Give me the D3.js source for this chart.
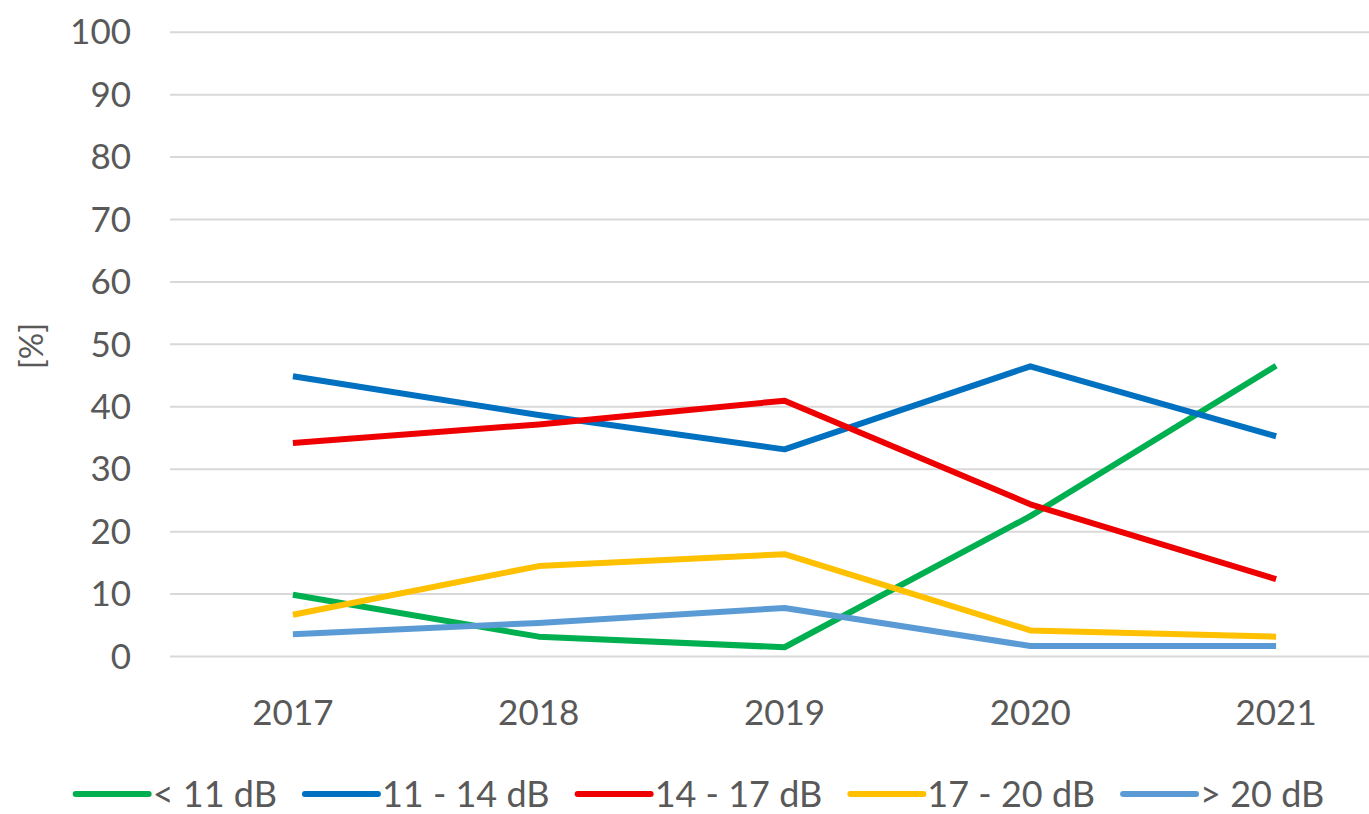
<!DOCTYPE html>
<html>
<head>
<meta charset="utf-8">
<script src="https://cdn.jsdelivr.net/npm/d3@7"></script>
<style>
  html, body { margin: 0; padding: 0; background: #fff; }
  svg { display: block; }
  text { font-family: Lato, "Open Sans", "Liberation Sans", sans-serif; fill: #595959; }
</style>
</head>
<body>
<svg id="chart" width="1369" height="814"></svg>
<script>
const years = ["2017", "2018", "2019", "2020", "2021"];
const seriesNames = ["< 11 dB", "11 - 14 dB", "14 - 17 dB", "17 - 20 dB", "> 20 dB"];
const seriesColors = ["#00b050", "#0070c0", "#ee0000", "#ffc000", "#5b9bd5"];
const lt11 = [9.8, 3.1, 1.4, 22.4, 46.5];
const s11to14 = [44.8, 38.6, 33.1, 46.4, 35.2];
const s14to17 = [34.1, 37.1, 40.9, 24.3, 12.3];
const s17to20 = [6.6, 14.4, 16.3, 4.1, 3.1];
const gt20 = [3.5, 5.3, 7.7, 1.6, 1.6];
const yTicks = [0, 10, 20, 30, 40, 50, 60, 70, 80, 90, 100];

const seriesValues = [lt11, s11to14, s14to17, s17to20, gt20];
const series = seriesNames.map((n, i) => ({ name: n, color: seriesColors[i], values: seriesValues[i] }));

const svg = d3.select("#chart");
const x = d3.scaleBand().domain(years).range([170, 1399]);
const y = d3.scaleLinear().domain([0, 100]).range([656, 31.7]);

// gridlines
const yAxis = d3.axisLeft(y).tickValues(yTicks).tickSize(-(1399 - 170)).tickPadding(40).tickFormat(d3.format("d"));
const gy = svg.append("g").attr("transform", "translate(170,0)").call(yAxis);
gy.select(".domain").remove();
gy.selectAll(".tick line").attr("stroke", "#d9d9d9").attr("stroke-width", 2);
gy.selectAll(".tick text").attr("font-size", 35).attr("fill", "#595959").attr("dy", "0.35em").attr("x", -39);

// x axis labels
const xAxis = d3.axisBottom(x).tickSize(0).tickPadding(0);
const gx = svg.append("g").attr("transform", "translate(0,700)").call(xAxis);
gx.select(".domain").remove();
gx.selectAll(".tick text").attr("font-size", 35).attr("fill", "#595959").attr("dy", "0.71em").attr("y", 0);

// y axis title
svg.append("text").attr("transform", "translate(31,346) rotate(-90)")
  .attr("text-anchor", "middle").attr("dy", "0.35em").attr("font-size", 33).text("[%]");

// lines
const line = d3.line().x((d, i) => x(years[i]) + x.bandwidth() / 2).y(d => y(d));
svg.append("g").selectAll("path").data(series).join("path")
  .attr("d", d => line(d.values))
  .attr("fill", "none").attr("stroke", d => d.color).attr("stroke-width", 6)
  .attr("stroke-linejoin", "round").attr("stroke-linecap", "butt");

// legend
const legend = svg.append("g");
const swatch = 73, gapText = 4, gapItem = 28, ly = 794;
const items = legend.selectAll("g").data(series).join("g");
items.append("line").attr("x1", 0).attr("x2", swatch).attr("y1", 0).attr("y2", 0)
  .attr("stroke", d => d.color).attr("stroke-width", 6).attr("stroke-linecap", "round");
items.append("text").attr("x", swatch + gapText).attr("dy", "0.35em").attr("font-size", 36).text(d => d.name);
let cx = 0;
const widths = [];
items.each(function() { widths.push(this.getBBox().width); });
const total = d3.sum(widths) + gapItem * (widths.length - 1);
cx = 700 - total / 2;
items.each(function(d, i) {
  d3.select(this).attr("transform", `translate(${cx},${ly})`);
  cx += widths[i] + gapItem;
});
</script>
</body>
</html>
